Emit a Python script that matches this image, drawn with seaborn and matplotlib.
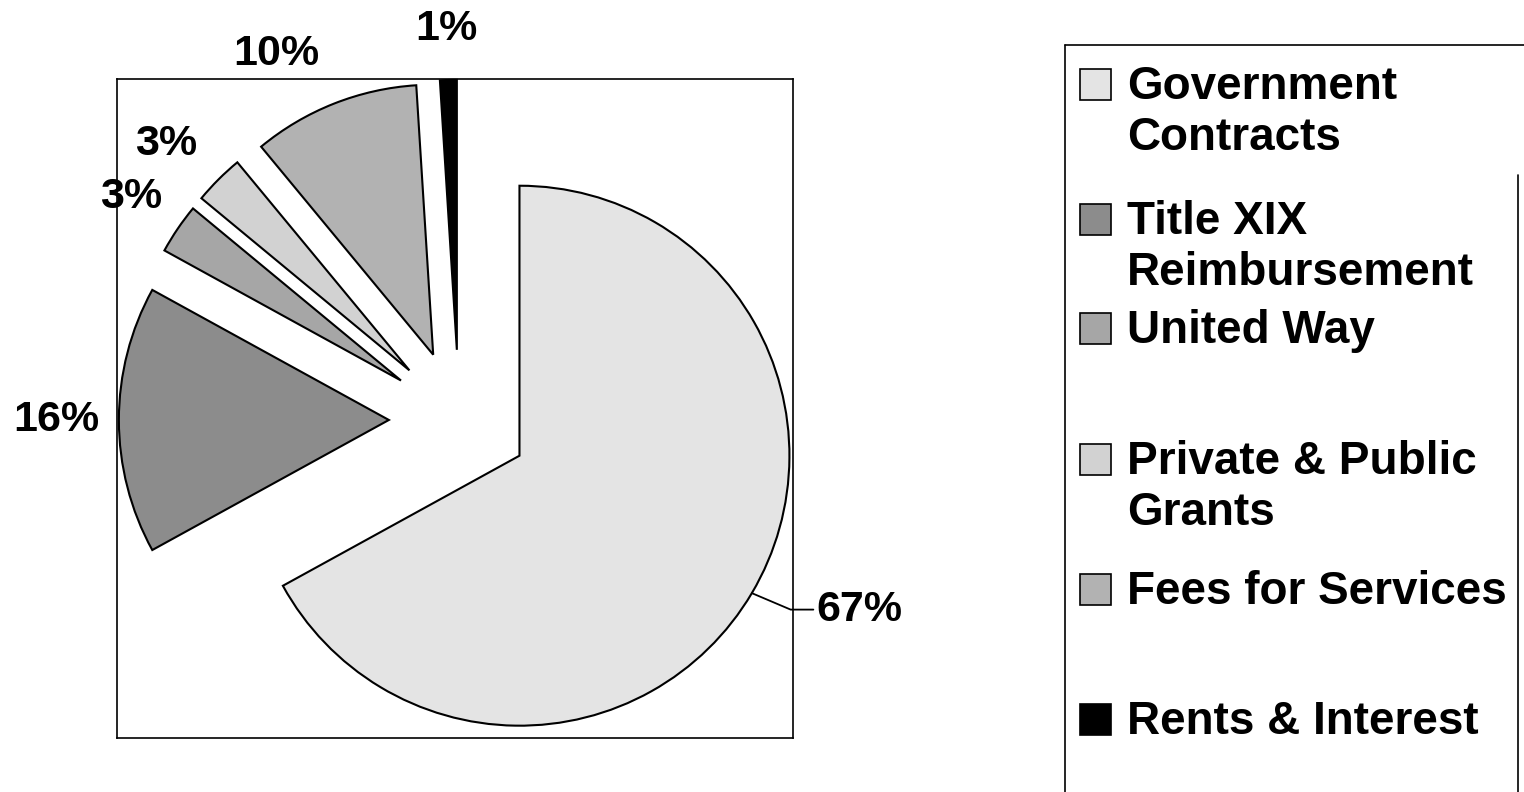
import numpy as np
import matplotlib.pyplot as plt
from matplotlib.patches import Rectangle
from matplotlib.lines import Line2D
import seaborn as sns

# data
sources = ['Government\nContracts', 'Title XIX\nReimbursement', 'United Way',
           'Private & Public\nGrants', 'Fees for Services', 'Rents & Interest']
shares = [67, 16, 3, 3, 10, 1]
pct_labels = ['67%', '16%', '3%', '3%', '10%', '1%']
greys = ['#e4e4e4', '#8c8c8c', '#a6a6a6', '#d2d2d2', '#b2b2b2', '#000000']

sns.set_theme(style='white')
plt.rcParams['font.family'] = ['Liberation Sans', 'DejaVu Sans']
plt.rcParams['text.color'] = 'black'

W, H = 1524, 792
fig = plt.figure(figsize=(W / 100, H / 100), dpi=100)
ax = fig.add_axes([117 / W, 1 - 738 / H, 676 / W, 659 / H])

wedges, _ = ax.pie(shares, colors=greys, startangle=90, counterclock=False,
                   explode=[0.26] * len(shares), radius=1,
                   wedgeprops=dict(edgecolor='black', linewidth=1.5))
ax.set_aspect('auto')
ax.set_xlim(-1.267, 1.237)
ax.set_ylim(-1.178, 1.263)
ax.set_frame_on(True)
for s in ax.spines.values():
    s.set_visible(True)
    s.set_color('black')
    s.set_linewidth(1.2)
ax.set_xticks([])
ax.set_yticks([])

# percent labels (distance from the exploded wedge centre, small angle nudges)
label_dist = [None, 1.23, 1.21, 1.23, 1.255, 1.19]
label_shift = [0, 0, 0, 2, 6, 0]
for w, txt, k, dt in zip(wedges, pct_labels, label_dist, label_shift):
    mid = np.deg2rad((w.theta1 + w.theta2) / 2 + dt)
    cx, cy = w.center
    if k is None:
        ex, ey = cx + w.r * np.cos(mid), cy + w.r * np.sin(mid)
        ax.annotate(txt, xy=(ex, ey), xytext=(ex + 0.24, ey - 0.061),
                    ha='left', va='center', fontsize=31, fontweight='bold',
                    color='black', annotation_clip=False,
                    arrowprops=dict(arrowstyle='-', color='black', lw=1.3,
                                    shrinkA=0, shrinkB=0, relpos=(0, 0.5),
                                    connectionstyle='angle,angleA=180,angleB=157,rad=0'))
    else:
        ax.text(cx + k * w.r * np.cos(mid), cy + k * w.r * np.sin(mid), txt,
                ha='center', va='center', fontsize=31, fontweight='bold',
                color='black', clip_on=False)

# legend drawn by hand, box runs off the page (bottom) like the scan
fx = lambda px: px / W
fy = lambda py: 1 - py / H
for xs, ys in [((1065, 1524), (45, 45)), ((1065, 1065), (45, 800)),
               ((1518, 1518), (175, 800))]:
    fig.add_artist(Line2D([fx(x) for x in xs], [fy(y) for y in ys],
                          transform=fig.transFigure, color='black', lw=1.2))

key_base = [99, 234, 343, 474, 604, 734]
line_gap = 51
for lab, col, yb in zip(sources, greys, key_base):
    fig.add_artist(Rectangle((fx(1080), fy(yb + 1)), 31 / W, 31 / H,
                             transform=fig.transFigure, facecolor=col,
                             edgecolor='black', lw=1.2))
    for i, line in enumerate(lab.split('\n')):
        fig.text(fx(1127), fy(yb + i * line_gap), line, ha='left',
                 va='baseline', fontsize=33, fontweight='bold', color='black')

fig.savefig('out.png', dpi=100)
